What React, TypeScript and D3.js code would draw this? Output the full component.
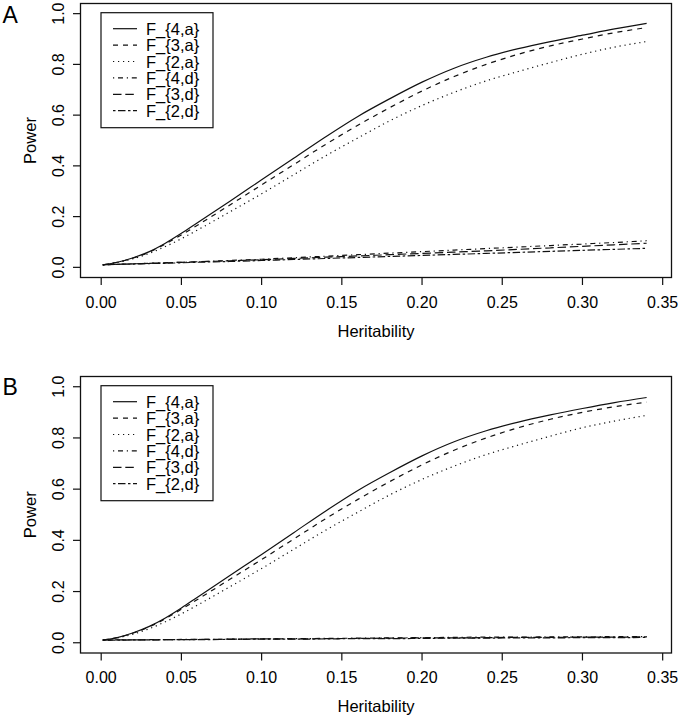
import React from "react";
import * as d3 from "d3";

const heritability = [0.001, 0.01, 0.02, 0.03, 0.04, 0.05, 0.06, 0.08, 0.10, 0.12, 0.14, 0.16, 0.18, 0.20, 0.22, 0.24, 0.26, 0.28, 0.30, 0.32, 0.34];

const A_F4a = [0.01, 0.02, 0.038, 0.062, 0.095, 0.134, 0.176, 0.26, 0.345, 0.43, 0.515, 0.595, 0.665, 0.73, 0.785, 0.828, 0.862, 0.89, 0.915, 0.94, 0.962];
const A_F3a = [0.01, 0.02, 0.037, 0.06, 0.092, 0.128, 0.166, 0.245, 0.325, 0.405, 0.485, 0.56, 0.63, 0.695, 0.752, 0.8, 0.84, 0.873, 0.9, 0.925, 0.945];
const A_F2a = [0.01, 0.019, 0.034, 0.055, 0.082, 0.113, 0.147, 0.218, 0.29, 0.365, 0.44, 0.51, 0.578, 0.638, 0.69, 0.735, 0.772, 0.807, 0.84, 0.868, 0.89];
const A_F4d = [0.01, 0.012, 0.014, 0.016, 0.018, 0.02, 0.022, 0.027, 0.032, 0.038, 0.044, 0.05, 0.056, 0.062, 0.068, 0.074, 0.08, 0.086, 0.092, 0.098, 0.105];
const A_F3d = [0.01, 0.012, 0.014, 0.016, 0.018, 0.02, 0.022, 0.026, 0.03, 0.035, 0.04, 0.045, 0.05, 0.055, 0.06, 0.065, 0.071, 0.077, 0.083, 0.089, 0.095];
const A_F2d = [0.01, 0.012, 0.013, 0.015, 0.016, 0.018, 0.02, 0.023, 0.027, 0.031, 0.035, 0.039, 0.043, 0.047, 0.051, 0.055, 0.059, 0.063, 0.067, 0.071, 0.075];

const B_F4a = [0.01, 0.02, 0.039, 0.064, 0.097, 0.136, 0.178, 0.262, 0.345, 0.43, 0.515, 0.595, 0.665, 0.73, 0.785, 0.828, 0.862, 0.89, 0.915, 0.938, 0.958];
const B_F3a = [0.01, 0.02, 0.038, 0.062, 0.094, 0.131, 0.169, 0.247, 0.325, 0.405, 0.485, 0.56, 0.63, 0.695, 0.752, 0.8, 0.84, 0.873, 0.9, 0.922, 0.94];
const B_F2a = [0.01, 0.019, 0.034, 0.055, 0.082, 0.113, 0.147, 0.218, 0.29, 0.365, 0.44, 0.51, 0.578, 0.638, 0.69, 0.735, 0.772, 0.807, 0.84, 0.866, 0.888];
const B_F4d = [0.01, 0.011, 0.011, 0.012, 0.012, 0.013, 0.013, 0.014, 0.015, 0.016, 0.017, 0.018, 0.019, 0.02, 0.021, 0.022, 0.022, 0.023, 0.023, 0.024, 0.024];
const B_F3d = [0.01, 0.011, 0.011, 0.011, 0.012, 0.012, 0.013, 0.014, 0.015, 0.015, 0.016, 0.017, 0.018, 0.019, 0.019, 0.02, 0.021, 0.021, 0.022, 0.022, 0.023];
const B_F2d = [0.01, 0.01, 0.011, 0.011, 0.012, 0.012, 0.012, 0.013, 0.014, 0.014, 0.015, 0.016, 0.016, 0.017, 0.018, 0.018, 0.019, 0.019, 0.02, 0.02, 0.021];

const seriesNames = ["F_{4,a}", "F_{3,a}", "F_{2,a}", "F_{4,d}", "F_{3,d}", "F_{2,d}"];
const xTicks = [0.0, 0.05, 0.10, 0.15, 0.20, 0.25, 0.30, 0.35];
const yTicks = [0.0, 0.2, 0.4, 0.6, 0.8, 1.0];

const panelA = [A_F4a, A_F3a, A_F2a, A_F4d, A_F3d, A_F2d];
const panelB = [B_F4a, B_F3a, B_F2a, B_F4d, B_F3d, B_F2d];

const dashes = ["none", "5,5", "1.2,3.8", "1.2,3.8,5,3.8", "8.5,3.8", "2.5,2.5,7.5,2.5"];

const FONT = "'Liberation Sans', Arial, Helvetica, sans-serif";

function Panel({ letter, data, top, bottom, letterY }: { letter: string; data: number[][]; top: number; bottom: number; letterY: number }) {
  const left = 80.5, right = 671.5;
  const x = d3.scaleLinear().domain([-0.0129, 0.3555]).range([left, right]);
  const y = d3.scaleLinear().domain([-0.04, 1.04]).range([bottom, top]);
  const line = d3.line<[number, number]>().x(d => x(d[0])).y(d => y(d[1])).curve(d3.curveMonotoneX);
  const legTop = top + 9.2;
  const rowH = 16.4;
  return (
    <g>
      <text x={2.5} y={letterY} fontSize={23} fontFamily={FONT}>{letter}</text>
      <rect x={left} y={top} width={right - left} height={bottom - top} fill="none" stroke="#111" strokeWidth={1.3} />
      {xTicks.map(t => (
        <g key={"x" + t}>
          <line x1={x(t)} x2={x(t)} y1={bottom} y2={bottom + 7.5} stroke="#111" strokeWidth={1.2} />
          <text x={x(t)} y={bottom + 30} fontSize={16} fontFamily={FONT} textAnchor="middle">{t.toFixed(2)}</text>
        </g>
      ))}
      {yTicks.map(t => (
        <g key={"y" + t}>
          <line x1={left} x2={left - 7.5} y1={y(t)} y2={y(t)} stroke="#111" strokeWidth={1.2} />
          <text transform={`translate(${63.5},${y(t)}) rotate(-90)`} fontSize={16} fontFamily={FONT} textAnchor="middle">{t.toFixed(1)}</text>
        </g>
      ))}
      <text transform={`translate(${36},${(top + bottom) / 2}) rotate(-90)`} fontSize={16.5} fontFamily={FONT} textAnchor="middle">Power</text>
      <text x={(left + right) / 2} y={bottom + 59} fontSize={16.5} fontFamily={FONT} textAnchor="middle">Heritability</text>
      {data.map((vals, i) => (
        <path key={"s" + i} d={line(heritability.map((h, j) => [h, vals[j]] as [number, number])) || ""} fill="none" stroke="#111" strokeWidth={1.2} strokeDasharray={dashes[i]} />
      ))}
      <rect x={101} y={legTop} width={112} height={115} fill="white" stroke="#111" strokeWidth={1.2} />
      {seriesNames.map((n, i) => {
        const cy = legTop + 16 + i * rowH;
        return (
          <g key={"l" + i}>
            <line x1={113} x2={137} y1={cy} y2={cy} stroke="#111" strokeWidth={1.2} strokeDasharray={dashes[i]} />
            <text x={146} y={cy + 6} fontSize={16.5} fontFamily={FONT}>{n}</text>
          </g>
        );
      })}
    </g>
  );
}

export default function App() {
  return (
    <svg width={682} height={720} style={{ position: "absolute", left: 0, top: 0, background: "white" }}>
      <rect x={0} y={0} width={682} height={720} fill="white" />
      <Panel letter="A" data={panelA} top={3.5} bottom={277.5} letterY={23} />
      <Panel letter="B" data={panelB} top={376.5} bottom={653} letterY={395} />
    </svg>
  );
}
